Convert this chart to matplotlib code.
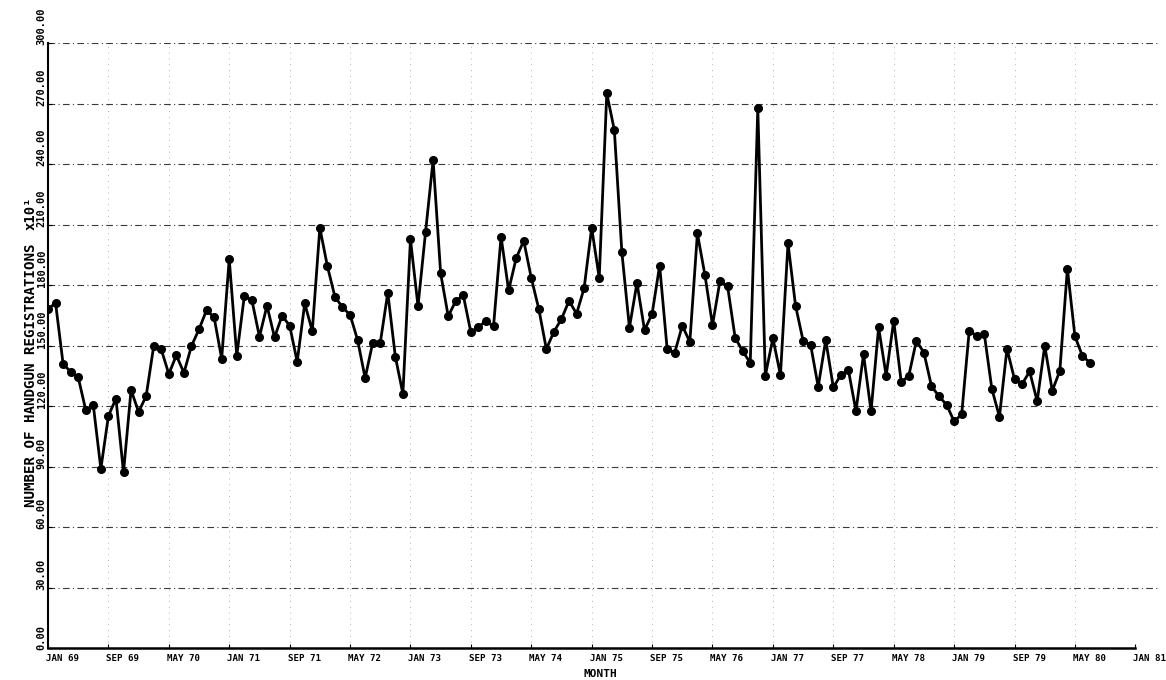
import numpy as np
import matplotlib
matplotlib.use("Agg")
import matplotlib.pyplot as plt
from matplotlib.transforms import ScaledTranslation

# Monthly handgun registrations (x10), starting JAN 69
registrations = [
    168.1, 171.3, 141.0, 137.1, 134.4, 118.1, 120.5, 89.0, 115.2, 123.8,
    87.3, 128.1, 117.2, 125.1, 149.9, 148.2, 136.0, 145.3, 136.6, 149.9,
    158.2, 167.7, 164.1, 143.6, 193.0, 145.1, 174.7, 172.7, 154.5, 169.9,
    154.2, 164.9, 160.0, 142.1, 171.0, 157.3, 208.5, 189.5, 174.3, 169.1,
    165.4, 152.9, 134.0, 151.5, 151.4, 176.3, 144.6, 126.2, 202.8, 169.7,
    206.4, 242.1, 185.9, 164.7, 172.2, 175.0, 156.7, 159.3, 162.3, 159.6,
    204.1, 177.5, 193.4, 202.1, 183.7, 168.2, 148.4, 157.0, 163.3, 172.3,
    165.9, 178.6, 208.5, 183.7, 275.2, 257.0, 196.3, 159.0, 181.2, 157.8,
    165.8, 189.8, 148.2, 146.6, 160.0, 151.9, 205.7, 185.1, 160.3, 182.3,
    179.5, 154.0, 147.3, 141.6, 267.7, 135.2, 153.8, 135.5, 200.8, 169.9,
    152.5, 150.4, 129.7, 152.9, 129.4, 135.5, 138.0, 117.6, 145.8, 117.6,
    159.1, 135.2, 162.4, 131.9, 135.2, 152.5, 146.6, 130.0, 124.9, 120.8,
    112.5, 116.0, 157.5, 154.8, 155.7, 128.6, 114.8, 148.5, 133.4, 131.0,
    137.3, 122.5, 150.0, 127.7, 137.6, 188.2, 154.7, 144.9, 141.6,
]
months = np.arange(len(registrations))

x_tick_labels = ["JAN 69", "SEP 69", "MAY 70", "JAN 71", "SEP 71", "MAY 72",
                 "JAN 73", "SEP 73", "MAY 74", "JAN 75", "SEP 75", "MAY 76",
                 "JAN 77", "SEP 77", "MAY 78", "JAN 79", "SEP 79", "MAY 80",
                 "JAN 81"]
x_tick_step = 8
y_ticks = [0, 30, 60, 90, 120, 150, 180, 210, 240, 270, 300]

W, H = 1166, 680
fig = plt.figure(figsize=(W / 100, H / 100), dpi=100)
left_px, right_px = 48, 1158
bottom_px, top_px = 648.3, 43.3
ax = fig.add_axes([left_px / W, (H - bottom_px) / H,
                   (right_px - left_px) / W, (bottom_px - top_px) / H])

font = dict(family="DejaVu Sans Mono", weight="bold")

xt = np.arange(len(x_tick_labels)) * x_tick_step
ax.set_xlim(0, 147)
ax.set_ylim(0, 300)

# horizontal grid (dash-dot)
for yv in y_ticks[1:]:
    ax.axhline(yv, color="#3a3a3a", lw=0.8, ls=(0, (6, 3, 1, 3)), zorder=1)
# faint vertical grid
for xv in xt[1:-1]:
    ax.axvline(xv, color="#9a9a9a", lw=0.6, ls=(0, (1, 6)), zorder=1)

ax.plot(months, registrations, color="black", lw=2.0, marker="o",
        markersize=5.5, markerfacecolor="black", zorder=3)

for s in ["top", "right"]:
    ax.spines[s].set_visible(False)
ax.spines["left"].set_linewidth(1.5)
ax.spines["bottom"].set_linewidth(1.8)
ax.spines["bottom"].set_bounds(0, xt[-1])

ax.set_xticks(xt)
ax.set_xticklabels(x_tick_labels, fontsize=6.6, ha="left", **font)
ax.tick_params(axis="x", direction="in", length=3, pad=4)
shift = ScaledTranslation(-2 / 100, 0, fig.dpi_scale_trans)
for lbl in ax.get_xticklabels():
    lbl.set_transform(lbl.get_transform() + shift)

ax.set_yticks(y_ticks)
ax.set_yticklabels([f"{v:.2f}" for v in y_ticks], rotation=90,
                   va="bottom", ha="right", fontsize=7.5, **font)
ax.tick_params(axis="y", direction="in", length=3, pad=1)
down = ScaledTranslation(0, -2 / 100, fig.dpi_scale_trans)
for lbl in ax.get_yticklabels():
    lbl.set_transform(lbl.get_transform() + down)

fig.text(600 / W, 1 - 674 / H, "MONTH", ha="center", va="center",
         fontsize=8, **font)
fig.text(31 / W, 1 - 375 / H, "NUMBER OF HANDGUN REGISTRATIONS", rotation=90,
         ha="center", va="center", fontsize=10.2, **font)
fig.text(31 / W, 1 - 213 / H, "x10\u00b9", rotation=90,
         ha="center", va="center", fontsize=10, **font)

fig.savefig("out.png", dpi=100)
